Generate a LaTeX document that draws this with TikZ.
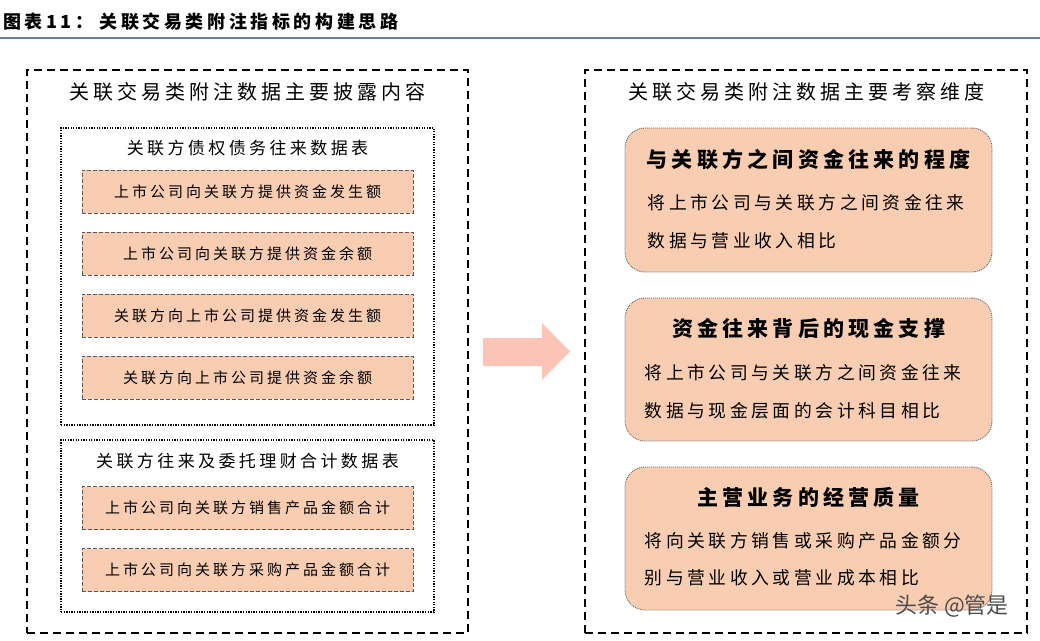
\documentclass[tikz,border=0pt]{standalone}
\usepackage{fontspec}
\setmainfont{Noto Sans CJK SC}[LetterSpace=20]
\newfontfamily\plainfont{Noto Sans CJK SC}
\definecolor{peach}{RGB}{248,205,178}
\definecolor{salmon}{RGB}{252,196,182}
\definecolor{rulecol}{RGB}{96,128,176}
\begin{document}
\begin{tikzpicture}[x=1pt,y=-1pt,inner sep=0pt,
  outer/.style={draw,line width=2.4pt,dash pattern=on 8pt off 5pt,minimum height=563pt},
  group/.style={draw,line width=1.3pt,dash pattern=on 1.3pt off 1.3pt,minimum width=373pt},
  item/.style={draw=black!65,fill=peach,line width=0.8pt,dash pattern=on 4pt off 2pt,minimum width=331pt,minimum height=43pt,font=\fontsize{15}{18}\selectfont},
  card/.style={draw=black!60,fill=peach,line width=0.9pt,dash pattern=on 1pt off 1pt,rounded corners=20pt,minimum width=367pt,minimum height=143pt},
  head/.style={font=\fontsize{20}{24}\selectfont},
  sub/.style={font=\fontsize{17}{20}\selectfont},
  cardhead/.style={font=\bfseries\fontsize{21}{25}\selectfont},
  cardtext/.style={anchor=west,font=\fontsize{17.8}{21}\selectfont}]
\useasboundingbox (0,0) rectangle (1040,640);
\node[anchor=west,font=\bfseries\fontsize{18}{22}\selectfont] (title) at (3,22) {图表11：\hspace{6pt}关联交易类附注指标的构建思路};
\draw[rulecol,line width=2.5pt] (0,38) -- (1040,38);
\node[outer,minimum width=441pt] (disclose) at (247.5,351.5) {};
\node[head] (discloseT) at (247.5,92) {关联交易类附注数据主要披露内容};
\node[group,minimum height=297pt] (debt) at (247.5,276.5) {};
\node[sub] (debtT) at (247.5,148) {关联方债权债务往来数据表};
\node[item] (d1) at (247.5,191.5) {上市公司向关联方提供资金发生额};
\node[item] (d2) at (247.5,253.5) {上市公司向关联方提供资金余额};
\node[item] (d3) at (247.5,315.5) {关联方向上市公司提供资金发生额};
\node[item] (d4) at (247.5,377.5) {关联方向上市公司提供资金余额};
\node[group,minimum height=172pt] (trade) at (247.5,526) {};
\node[sub] (tradeT) at (247.5,461) {关联方往来及委托理财合计数据表};
\node[item] (t1) at (247.5,508) {上市公司向关联方销售产品金额合计};
\node[item] (t2) at (247.5,570) {上市公司向关联方采购产品金额合计};
\fill[salmon] (483,338) -- (542,338) -- (542,323) -- (570,351.5) -- (542,380) -- (542,366) -- (483,366) -- cycle;
\node[outer,minimum width=442pt] (review) at (806,351.5) {};
\node[head] (reviewT) at (806,92) {关联交易类附注数据主要考察维度};
\node[card,minimum height=144pt] (c1) at (808.5,200) {};
\node[cardhead] (c1T) at ([yshift=-32pt]c1.north) {与关联方之间资金往来的程度};
\node[cardtext] (c1a) at ([xshift=23pt,yshift=-75pt]c1.north west) {将上市公司与关联方之间资金往来};
\node[cardtext] (c1b) at ([xshift=23pt,yshift=-113pt]c1.north west) {数据与营业收入相比};
\node[card] (c2) at (808.5,369.5) {};
\node[cardhead] (c2T) at ([yshift=-31pt]c2.north) {资金往来背后的现金支撑};
\node[cardtext] (c2a) at ([xshift=20pt,yshift=-75pt]c2.north west) {将上市公司与关联方之间资金往来};
\node[cardtext] (c2b) at ([xshift=20pt,yshift=-113pt]c2.north west) {数据与现金层面的会计科目相比};
\node[card] (c3) at (808.5,538.5) {};
\node[cardhead] (c3T) at ([yshift=-31pt]c3.north) {主营业务的经营质量};
\node[cardtext] (c3a) at ([xshift=20pt,yshift=-74pt]c3.north west) {将向关联方销售或采购产品金额分};
\node[cardtext] (c3b) at ([xshift=20pt,yshift=-111pt]c3.north west) {别与营业收入或营业成本相比};
\node[font=\plainfont\fontsize{22}{26}\selectfont,text=black!70] (mark) at (952,606) {头条 @管是};
\end{tikzpicture}
\end{document}
